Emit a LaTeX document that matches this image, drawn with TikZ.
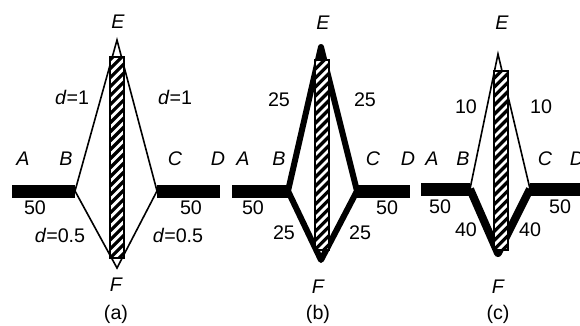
\documentclass[tikz,border=0pt]{standalone}
\usepackage{fontspec}
\setmainfont{Liberation Sans}
\usetikzlibrary{calc}

\tikzset{
  lbl/.style={font=\fontsize{14}{16}\selectfont\itshape, inner sep=0pt},
  num/.style={font=\fontsize{14}{16}\selectfont, inner sep=0pt},
  bar/.style={line width=0.325cm},
  thinedge/.style={line width=0.04cm},
  heavyedge/.style={line width=0.15cm, line join=round},
  heavieredge/.style={line width=0.2cm, line join=round},
  rod/.style={draw, line width=0.05cm, fill=white, minimum width=0.35cm, inner sep=0pt,
    path picture={
      \foreach \k in {-3,...,26}
        \draw[line width=0.08cm] ([yshift=\k*0.225cm]path picture bounding box.south west) -- ++(0.6cm,0.6cm);
    }}
}

\begin{document}
\begin{tikzpicture}[x=0.025cm, y=0.025cm, line cap=butt]

\useasboundingbox (0,0) rectangle (580,325);

% Panel (a)
\coordinate (aL) at (12,134);
\coordinate (aB) at (75,134);
\coordinate (aE) at (117,285);
\coordinate (aF) at (117,57);
\coordinate (aC) at (157,134);
\coordinate (aR) at (220,134);
\draw[bar] (aL) -- (aB);
\draw[bar] (aC) -- (aR);
\draw[thinedge] (aB) -- (aE) -- (aC) -- (aF) -- cycle;
\node[rod, minimum height=5.025cm] (rodA) at (117,167.5) {};
\node[lbl] (labA) at (23,166) {A};
\node[lbl] (labB) at (66,166) {B};
\node[lbl] (labC) at (175,166) {C};
\node[lbl] (labD) at (218,166) {D};
\node[lbl] (labE) at (118,303) {E};
\node[lbl] (labF) at (116,40) {F};
\node[num] (upLA) at (72,228) {\textit{d}=1};
\node[num] (upRA) at (175,228) {\textit{d}=1};
\node[num] (loLA) at (60,90) {\textit{d}=0.5};
\node[num] (loRA) at (178,90) {\textit{d}=0.5};
\node[num] (barLA) at (35,117) {50};
\node[num] (barRA) at (191,117) {50};
\node[num] (capA) at (116,11) {(a)};

% Panel (b)
\coordinate (bL) at (232,134);
\coordinate (bB) at (288,134);
\coordinate (bE) at (321,278);
\coordinate (bF) at (321,65);
\coordinate (bC) at (357,134);
\coordinate (bR) at (410,134);
\draw[bar] (bL) -- (bB);
\draw[bar] (bC) -- (bR);
\draw[heavyedge] (bB) -- (bE) -- (bC) -- (bF) -- cycle;
\node[rod, minimum height=4.75cm] (rodB) at (321.5,170) {};
\node[lbl] (labA2) at (243,166) {A};
\node[lbl] (labB2) at (279,166) {B};
\node[lbl] (labC2) at (373,166) {C};
\node[lbl] (labD2) at (408,166) {D};
\node[lbl] (labE2) at (323,302) {E};
\node[lbl] (labF2) at (318,38) {F};
\node[num] (upLB) at (279,225) {25};
\node[num] (upRB) at (365,225) {25};
\node[num] (loLB) at (284,92) {25};
\node[num] (loRB) at (360,92) {25};
\node[num] (barLB) at (253,117) {50};
\node[num] (barRB) at (387,117) {50};
\node[num] (capB) at (318,11) {(b)};

% Panel (c)
\coordinate (cL) at (421,136);
\coordinate (cB) at (470,136);
\coordinate (cE) at (498,271);
\coordinate (cF) at (498,72);
\coordinate (cC) at (530,136);
\coordinate (cR) at (585,136);
\draw[bar] (cL) -- (cB);
\draw[bar] (cC) -- (cR);
\draw[thinedge] (cB) -- (cE) -- (cC);
\draw[heavieredge] (cB) -- (cF) -- (cC);
\node[rod, minimum height=4.475cm] (rodC) at (500.5,164.5) {};
\node[lbl] (labA3) at (432,166) {A};
\node[lbl] (labB3) at (463,166) {B};
\node[lbl] (labC3) at (545,166) {C};
\node[lbl] (labD3) at (577,166) {D};
\node[lbl] (labE3) at (502,302) {E};
\node[lbl] (labF3) at (498,38) {F};
\node[num] (upLC) at (466,218) {10};
\node[num] (upRC) at (541,218) {10};
\node[num] (loLC) at (466,95) {40};
\node[num] (loRC) at (530,95) {40};
\node[num] (barLC) at (440,118) {50};
\node[num] (barRC) at (560,118) {50};
\node[num] (capC) at (498,11) {(c)};

\end{tikzpicture}
\end{document}
